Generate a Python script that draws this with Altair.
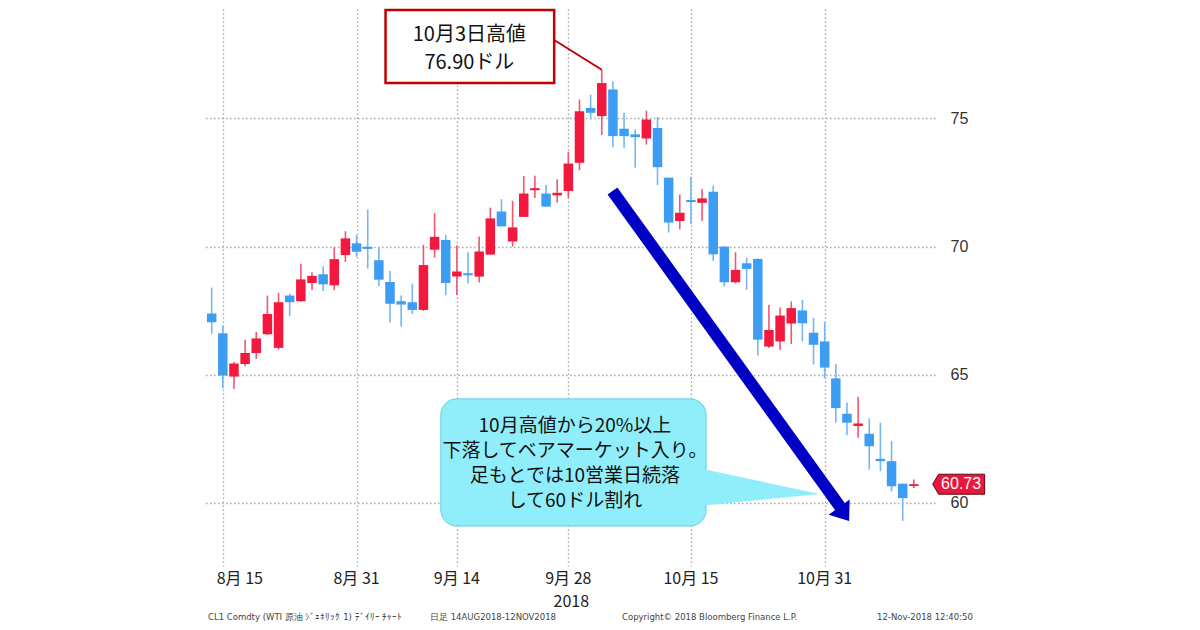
import altair as alt
import pandas as pd

# ---------------- data ----------------
dates = ["08-14", "08-15", "08-16", "08-17", "08-20", "08-21", "08-22", "08-23", "08-24",
         "08-27", "08-28", "08-29", "08-30", "08-31",
         "09-04", "09-05", "09-06", "09-07", "09-10", "09-11", "09-12", "09-13", "09-14",
         "09-17", "09-18", "09-19", "09-20", "09-21", "09-24", "09-25", "09-26", "09-27", "09-28",
         "10-01", "10-02", "10-03", "10-04", "10-05", "10-08", "10-09", "10-10", "10-11", "10-12",
         "10-15", "10-16", "10-17", "10-18", "10-19", "10-22", "10-23", "10-24", "10-25", "10-26",
         "10-29", "10-30", "10-31",
         "11-01", "11-02", "11-05", "11-06", "11-07", "11-08", "11-09", "11-12"]

opens = [67.39, 66.62, 64.93, 65.42, 65.85, 66.58, 66.05, 68.09, 67.87,
         68.58, 68.92, 68.49, 69.67, 70.13,
         69.99, 69.47, 68.62, 67.87, 67.83, 67.53, 69.88, 70.26, 68.83,
         68.96, 68.83, 69.69, 71.37, 70.20, 71.16, 72.20, 72.07, 72.00, 72.17,
         73.27, 75.41, 75.09, 76.13, 74.60, 74.38, 74.22, 74.63, 72.69, 71.00,
         71.82, 71.71, 72.14, 70.00, 68.61, 69.35, 69.52, 66.10, 66.30, 67.00,
         67.51, 66.64, 66.30,
         64.86, 63.48, 63.00, 62.70, 61.72, 61.63, 60.75, 60.66]

highs = [68.40, 66.91, 65.50, 66.37, 66.67, 68.09, 68.20, 68.16, 69.33,
         68.99, 69.23, 69.98, 70.60, 70.45,
         71.45, 69.95, 69.05, 68.09, 68.55, 70.07, 71.31, 70.45, 70.04,
         69.78, 70.39, 71.52, 71.85, 71.79, 72.76, 72.76, 72.40, 72.63, 73.70,
         75.74, 75.93, 76.90, 76.45, 75.22, 74.57, 75.30, 75.05, 72.69, 72.03,
         72.73, 72.25, 72.38, 70.02, 69.78, 69.57, 69.54, 67.73, 67.62, 67.86,
         67.92, 67.22, 67.06,
         65.42, 63.92, 64.14, 63.30, 63.13, 62.41, 60.75, 60.91]

lows = [66.60, 64.47, 64.45, 65.33, 65.62, 66.55, 65.98, 67.30, 67.85,
        68.30, 68.27, 68.30, 69.40, 69.60,
        69.15, 68.45, 67.04, 66.88, 67.37, 67.50, 69.57, 68.10, 68.10,
        68.57, 68.60, 69.69, 70.79, 70.00, 71.16, 71.90, 71.56, 71.72, 71.90,
        72.98, 74.96, 74.35, 73.88, 73.86, 73.08, 73.98, 72.40, 70.55, 70.68,
        70.87, 71.00, 69.44, 68.44, 68.57, 68.31, 65.75, 66.04, 65.97, 66.20,
        66.30, 65.40, 64.87,
        63.13, 62.65, 62.54, 61.30, 61.24, 60.45, 59.30, 60.58]

closes = [67.05, 64.97, 65.44, 65.85, 66.42, 67.37, 67.83, 67.83, 68.72,
          68.86, 68.53, 69.51, 70.32, 69.80,
          69.91, 68.71, 67.77, 67.74, 67.53, 69.28, 70.38, 68.58, 69.03,
          68.88, 69.81, 71.10, 70.79, 70.75, 72.07, 72.28, 71.56, 72.10, 73.24,
          75.28, 75.22, 76.38, 74.31, 74.31, 74.27, 74.96, 73.10, 70.94, 71.32,
          71.74, 71.88, 69.70, 68.61, 69.09, 69.13, 66.37, 66.75, 67.31, 67.60,
          67.01, 66.17, 65.28,
          63.70, 63.13, 63.10, 62.21, 61.63, 60.65, 60.19, 60.73]

tick_idx = [1, 13, 22, 32, 43, 55]
tick_labels = ["8月 15", "8月 31", "9月 14", "9月 28", "10月 15", "10月 31"]
y_ticks = [60, 65, 70, 75]
year_label = "2018"

high_text = ["10月3日高値", "76.90ドル"]
high_idx = 35
high_value = 76.90
bubble_text = ["10月高値から20%以上", "下落してベアマーケット入り。",
               "足もとでは10営業日続落", "して60ドル割れ"]
last_price = 60.73
footer_texts = ["CL1 Comdty (WTI 原油 ｼﾞｪﾈﾘｯｸ 1) ﾃﾞｲﾘｰ ﾁｬｰﾄ",
                "日足 14AUG2018-12NOV2018",
                "Copyright© 2018 Bloomberg Finance L.P.",
                "12-Nov-2018 12:40:50"]

# ---------------- build ----------------
df = pd.DataFrame({"idx": list(range(len(dates))), "date": dates, "open": opens,
                   "high": highs, "low": lows, "close": closes})

RED = "#f2183e"
BLUE = "#3d9df2"
RED_W = "#f4566f"
BLUE_W = "#72b6f4"
GRID = "#a6a6a6"
ARROW = "#0000c4"
CJK = "Noto Sans CJK JP"

xs = alt.Scale(domain=[-0.33, 64.45], nice=False, zero=False)
ys = alt.Scale(domain=[57.54, 79.27], nice=False, zero=False)

AX = alt.Axis(values=tick_idx, labels=False, ticks=False, domain=False, grid=True,
              gridDash=[1.5, 2.5], gridColor=GRID, gridWidth=1.3, title=None)
AY = alt.Axis(orient="right", values=y_ticks, ticks=False, domain=False, grid=True,
              gridDash=[1.5, 2.5], gridColor=GRID, gridWidth=1.3, labelPadding=15,
              labelFontSize=16, labelColor="#333333", labelFont="Liberation Sans",
              title=None)


def X(f, **kw):
    return alt.X(f, scale=xs, axis=AX, **kw)


def Y(f, **kw):
    return alt.Y(f, scale=ys, axis=AY, **kw)


up = "datum.close >= datum.open"

wicks = alt.Chart(df).mark_rule(strokeWidth=1.6).encode(
    x=X("idx:Q"), y=Y("low:Q"), y2="high:Q",
    color=alt.condition(up, alt.value(RED_W), alt.value(BLUE_W)),
)

bodies = alt.Chart(df).mark_bar(size=9.5).encode(
    x=X("idx:Q"), y=Y("open:Q"), y2="close:Q",
    color=alt.condition(up, alt.value(RED), alt.value(BLUE)),
)

# x-axis labels drawn as text through the x scale
xlab_df = pd.DataFrame({"idx": tick_idx, "label": tick_labels})
xlab_first = alt.Chart(xlab_df.iloc[:1]).mark_text(
    font=CJK, fontSize=16, color="#222222", dx=17, baseline="middle").encode(
    x=X("idx:Q"), y=alt.value(570), text="label:N")
xlab_rest = alt.Chart(xlab_df.iloc[1:]).mark_text(
    font=CJK, fontSize=16, color="#222222", baseline="middle").encode(
    x=X("idx:Q"), y=alt.value(570), text="label:N")
year = alt.Chart(pd.DataFrame({"idx": [tick_idx[3]], "label": [year_label]})).mark_text(
    font=CJK, fontSize=16, color="#222222", dx=3, baseline="middle").encode(
    x=X("idx:Q"), y=alt.value(593), text="label:N")

# footer
foot_df = pd.DataFrame({"t": footer_texts})
footer_layers = []
for i, px in enumerate([5, 227, 419, 674]):
    footer_layers.append(
        alt.Chart(foot_df.iloc[i:i + 1]).mark_text(
            font="DejaVu Sans", fontSize=8.5, color="#444444", align="left",
            baseline="middle").encode(x=alt.value(px), y=alt.value(608), text="t:N"))

# annotation 1: high box
box1 = alt.Chart(pd.DataFrame({"x": [15.6], "x2": [30.73], "y": [79.23], "y2": [76.385]})).mark_rect(
    fill="white", stroke="#c00000", strokeWidth=2.5).encode(
    x=X("x:Q"), x2="x2:Q", y=Y("y:Q"), y2="y2:Q")
leader = alt.Chart(pd.DataFrame({"x": [30.73], "y": [78.06], "x2": [high_idx], "y2": [high_value]})).mark_rule(
    color="#c00000", strokeWidth=2).encode(
    x=X("x:Q"), y=Y("y:Q"), x2="x2:Q", y2="y2:Q")
box1_text = alt.Chart(pd.DataFrame({"x": [23.12, 23.12], "y": [78.26, 77.15], "t": high_text})).mark_text(
    font=CJK, fontSize=20, color="#111111", baseline="middle").encode(
    x=X("x:Q"), y=Y("y:Q"), text="t:N")

# annotation 2: speech bubble
CYAN = "#90eefa"
box2 = alt.Chart(pd.DataFrame({"x": [20.56], "x2": [44.36], "y": [64.06], "y2": [59.10]})).mark_rect(
    fill=CYAN, stroke="#62d2e4", strokeWidth=1, cornerRadius=16).encode(
    x=X("x:Q"), x2="x2:Q", y=Y("y:Q"), y2="y2:Q")
pointer = alt.Chart(pd.DataFrame({"x": [43.65, 54.54], "y": [61.36, 60.35], "y2": [59.88, 60.35]})).mark_area(
    color=CYAN, opacity=1).encode(
    x=X("x:Q"), y=Y("y:Q"), y2="y2:Q")
box2_text = alt.Chart(pd.DataFrame({"x": [32.59] * 4, "y": [63.0, 62.03, 61.05, 60.07],
                                    "t": bubble_text})).mark_text(
    font=CJK, fontSize=19, color="#111111", baseline="middle").encode(
    x=X("x:Q"), y=Y("y:Q"), text="t:N")

# arrow
shaft = alt.Chart(pd.DataFrame({"x": [35.96], "y": [72.17], "x2": [56.40], "y2": [59.84]})).mark_rule(
    color=ARROW, strokeWidth=12, strokeCap="butt").encode(
    x=X("x:Q"), y=Y("y:Q"), x2="x2:Q", y2="y2:Q")
head = alt.Chart(pd.DataFrame({"x": [57.19], "y": [59.30]})).mark_point(
    shape="M0,0 L1,1.3 L-1,1.3 Z", size=676, angle=144, filled=True,
    color=ARROW, opacity=1, strokeWidth=0).encode(
    x=X("x:Q"), y=Y("y:Q"))

# last price tag
tag = alt.Chart(pd.DataFrame({"x": [67.02], "y": [last_price]})).mark_point(
    shape="M-2.6,0 L-2,-1 L2.6,-1 L2.6,1 L-2,1 Z", size=400, filled=True,
    fill="#e8183c", stroke="#5a0a14", strokeWidth=1, opacity=1).encode(
    x=X("x:Q"), y=Y("y:Q"))
tag_text = alt.Chart(pd.DataFrame({"x": [67.24], "y": [last_price], "t": [f"{last_price:.2f}"]})).mark_text(
    font="Liberation Sans", fontSize=16, color="white", baseline="middle").encode(
    x=X("x:Q"), y=Y("y:Q"), text="t:N")

chart = alt.layer(
    wicks, bodies, xlab_first, xlab_rest, year, *footer_layers,
    box2, pointer, box2_text, shaft, head, leader, box1, box1_text, tag, tag_text,
).properties(
    width=732, height=557,
    padding={"left": 195, "top": 0, "right": 5, "bottom": 5},
    background="white",
).configure_view(stroke=None)

chart.save("out.html", embed_options={"renderer": "svg", "actions": False})
